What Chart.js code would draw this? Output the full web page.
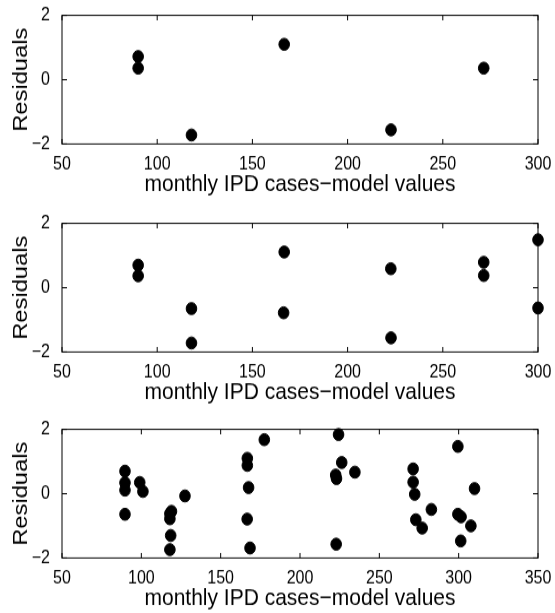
<!DOCTYPE html>
<html>
<head>
<meta charset="utf-8">
<script src="https://cdn.jsdelivr.net/npm/chart.js@4/dist/chart.umd.min.js"></script>
<style>
  html, body { margin: 0; padding: 0; background: #fff; }
  body { width: 555px; height: 613px; overflow: hidden; position: relative; }
  .panel { position: absolute; left: 0; width: 555px; height: 177px; transform: scaleY(1.13); transform-origin: top left; }
</style>
</head>
<body>
<div class="panel" style="top:0px"><canvas id="c1" width="555" height="177"></canvas></div>
<div class="panel" style="top:208px"><canvas id="c2" width="555" height="177"></canvas></div>
<div class="panel" style="top:413.5px"><canvas id="c3" width="555" height="177"></canvas></div>
<script>
// residuals vs monthly IPD cases (three model fits)
const xP1 = [90, 90, 118, 166.7, 222.8, 271.5];
const rP1 = [0.72, 0.36, -1.72, 1.10, -1.56, 0.36];

const xP2 = [90, 90, 118, 118, 166.7, 166.4, 222.7, 222.8, 271.5, 271.5, 300, 300];
const rP2 = [0.70, 0.37, -0.65, -1.72, 1.11, -0.78, 0.59, -1.56, 0.79, 0.38, 1.49, -0.63];

const xP3 = [89.7, 89.7, 89.7, 89.7, 99, 101, 118, 119, 118, 118.5, 118, 127.5,
  166.8, 166.8, 167.6, 166.7, 168.5, 177.5, 224.3, 222.5, 223, 226.3, 234.6, 222.8,
  271.3, 271.3, 272.3, 273, 277, 282.8, 299.5, 299.5, 301.5, 301.3, 307.7, 310];
const rP3 = [0.70, 0.34, 0.11, -0.64, 0.35, 0.07, -0.62, -0.55, -0.78, -1.30, -1.74, -0.07,
  1.10, 0.88, 0.19, -0.79, -1.69, 1.68, 1.84, 0.58, 0.47, 0.97, 0.67, -1.57,
  0.77, 0.36, -0.02, -0.81, -1.07, -0.49, 1.47, -0.64, -0.72, -1.47, -1.00, 0.16];

const xMaxes = [300, 300, 350];
const yTicks = [-2, 0, 2];
const yTickLabels = ['\u22122', '0', '2'];
const xLabel = 'monthly IPD cases\u2212model values';
const yLabel = 'Residuals';

const FONT = "'Liberation Sans', Arial, Helvetica, sans-serif";

// matlab style box with inward ticks
const frameTicks = {
  id: 'frameTicks',
  beforeDatasetsDraw(chart) {
    const { ctx, chartArea: a, scales: { x, y } } = chart;
    ctx.save();
    ctx.strokeStyle = '#000';
    ctx.lineWidth = 1;
    ctx.strokeRect(a.left, a.top, a.right - a.left, a.bottom - a.top);
    ctx.beginPath();
    x.ticks.forEach(t => {
      const px = x.getPixelForValue(t.value);
      ctx.moveTo(px, a.bottom); ctx.lineTo(px, a.bottom - 4.4);
      ctx.moveTo(px, a.top); ctx.lineTo(px, a.top + 4.4);
    });
    y.ticks.forEach(t => {
      const py = y.getPixelForValue(t.value);
      ctx.moveTo(a.left, py); ctx.lineTo(a.left + 5, py);
      ctx.moveTo(a.right, py); ctx.lineTo(a.right - 5, py);
    });
    ctx.stroke();
    ctx.restore();
  }
};

function makeChart(id, xs, rs, xMax) {
  const pts = xs.map((v, i) => ({ x: v, y: rs[i] }));
  return new Chart(document.getElementById(id), {
    type: 'scatter',
    data: {
      datasets: [{
        data: pts,
        backgroundColor: '#000',
        borderColor: '#000',
        pointRadius: 5.3,
        pointHoverRadius: 5.3,
        clip: false
      }]
    },
    options: {
      responsive: false,
      animation: false,
      devicePixelRatio: 1,
      layout: { padding: { top: 10.9, right: 17, left: 0, bottom: 0 } },
      plugins: { legend: { display: false }, tooltip: { enabled: false } },
      scales: {
        x: {
          type: 'linear',
          min: 50,
          max: xMax,
          grid: { display: false },
          border: { display: false },
          ticks: { stepSize: 50, color: '#000', padding: 1, maxRotation: 0, font: { family: FONT, size: 16 } },
          title: { display: true, text: xLabel, color: '#000', padding: { top: 0, bottom: 1 }, font: { family: FONT, size: 21 } },
          afterFit(s) { s.height = 49.6; }
        },
        y: {
          type: 'linear',
          min: -2,
          max: 2,
          grid: { display: false },
          border: { display: false },
          afterBuildTicks(s) { s.ticks = yTicks.map(v => ({ value: v })); },
          ticks: {
            color: '#000',
            padding: 4,
            font: { family: FONT, size: 16 },
            callback: v => yTickLabels[yTicks.indexOf(v)]
          },
          title: { display: true, text: yLabel, color: '#000', padding: { top: 8.4, bottom: 0 }, font: { family: FONT, size: 21 } },
          afterFit(s) { s.width = 62; }
        }
      }
    },
    plugins: [frameTicks]
  });
}

makeChart('c1', xP1, rP1, xMaxes[0]);
makeChart('c2', xP2, rP2, xMaxes[1]);
makeChart('c3', xP3, rP3, xMaxes[2]);
</script>
</body>
</html>
